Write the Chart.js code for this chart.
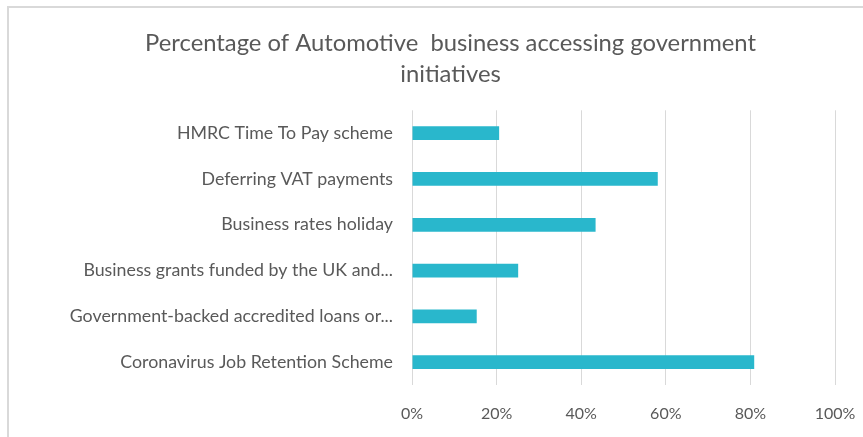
<!DOCTYPE html>
<html>
<head>
<meta charset="utf-8">
<script src="https://cdn.jsdelivr.net/npm/chart.js@4"></script>
<style>
  html, body { margin: 0; padding: 0; background: #fff; }
  #wrap { position: relative; width: 863px; height: 437px; overflow: hidden; }
  #frame { position: absolute; left: 7px; top: 6px; width: 900px; height: 500px; border: 2px solid #d9d9d9; box-sizing: border-box; }
  canvas { position: absolute; left: 0; top: 0; }
</style>
</head>
<body>
<div id="wrap">
  <div id="frame"></div>
  <canvas id="chart" width="863" height="437"></canvas>
</div>
<script>
// Categories, top to bottom
const categories = [
  'HMRC Time To Pay scheme',
  'Deferring VAT payments',
  'Business rates holiday',
  'Business grants funded by the UK and...',
  'Government-backed accredited loans or...',
  'Coronavirus Job Retention Scheme'
];
// Share of businesses (%)
const shares = [20.6, 58.1, 43.4, 25.1, 15.3, 80.9];
// X axis ticks
const xTicks = [0, 20, 40, 60, 80, 100];

const titleLines = ['Percentage of Automotive  business accessing government', 'initiatives'];
const textColor = '#595959';
const gridColor = '#d9d9d9';
const fontFamily = 'Lato, "Open Sans", sans-serif';

const ctx = document.getElementById('chart');
const chart = new Chart(ctx, {
  type: 'bar',
  data: {
    labels: categories,
    datasets: [{
      label: 'Share',
      data: shares,
      backgroundColor: '#29b7cc',
      borderWidth: 0,
      categoryPercentage: 1,
      barPercentage: 0.3
    }]
  },
  options: {
    indexAxis: 'y',
    responsive: false,
    animation: false,
    // left padding shifts the title centre; y axis width keeps the plot at x=412
    layout: { padding: { left: 66, right: 28, top: 0, bottom: 0 } },
    plugins: {
      legend: { display: false },
      tooltip: { enabled: false },
      title: {
        display: true,
        text: titleLines,
        color: textColor,
        font: { family: fontFamily, size: 23.8, weight: 'normal', lineHeight: 1.33 },
        padding: { top: 27, bottom: 20 }
      }
    },
    scales: {
      x: {
        min: 0,
        max: 100,
        afterBuildTicks: scale => { scale.ticks = xTicks.map(v => ({ value: v })); },
        afterFit: scale => {
          scale.height = 52;
          scale.paddingLeft = 0;
          scale.paddingRight = 0;
        },
        grid: { color: gridColor, lineWidth: 1, drawTicks: false },
        border: { display: false },
        ticks: {
          color: textColor,
          font: { family: fontFamily, size: 16 },
          padding: 19,
          callback: v => v + '%'
        }
      },
      y: {
        afterFit: scale => { scale.width = 346; },
        grid: { display: false, drawTicks: false },
        border: { display: false },
        ticks: {
          color: textColor,
          font: { family: fontFamily, size: 17.8 },
          padding: 19
        }
      }
    }
  }
});
</script>
</body>
</html>
